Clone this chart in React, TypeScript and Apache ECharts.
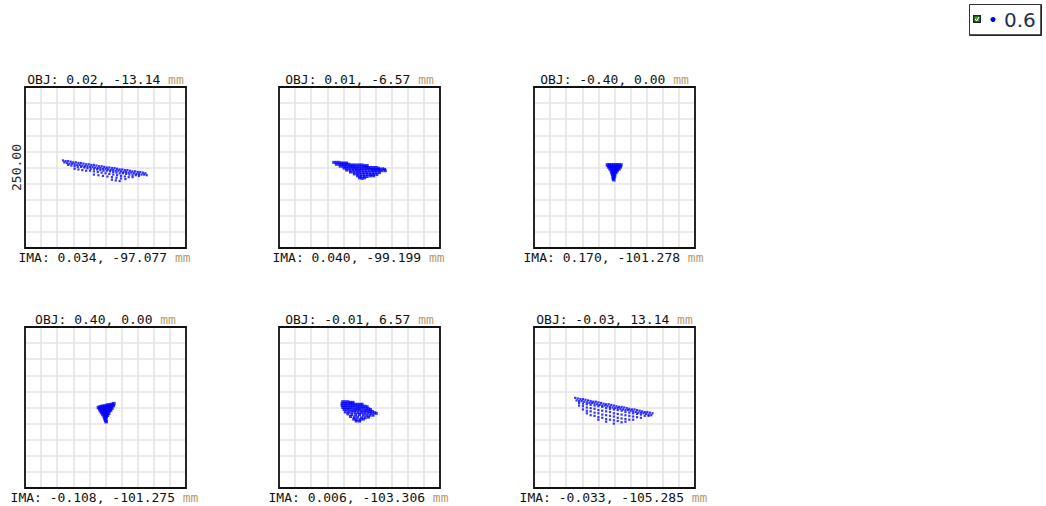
import React, { useEffect, useRef } from "react";
import * as echarts from "echarts";

// ---------- data (µm, relative to the chief-ray centroid; box = 250 µm) ----------
const objLabels = [
  "OBJ: 0.02, -13.14",
  "OBJ: 0.01, -6.57",
  "OBJ: -0.40, 0.00",
  "OBJ: 0.40, 0.00",
  "OBJ: -0.01, 6.57",
  "OBJ: -0.03, 13.14",
];
const imaLabels = [
  "IMA: 0.034, -97.077",
  "IMA: 0.040, -99.199",
  "IMA: 0.170, -101.278",
  "IMA: -0.108, -101.275",
  "IMA: 0.006, -103.306",
  "IMA: -0.033, -105.285",
];
const unitLabel = "mm";
const scaleLabel = "250.00";
const legendLabel = "0.6";
const axisMin = -125;
const axisMax = 125;
const axisStep = 25;

const spot1: number[][] = [
  [-66, 11], [-62, 10], [-58, 10], [-54, 9], [-50, 8], [-46, 8], [-42, 7], [-38, 7], [-34, 6], [-30, 5], [-26, 5],
  [-22, 4], [-18, 4], [-14, 3], [-10, 2], [-6, 2], [-2, 1], [2, 0], [6, 0], [10, -1], [14, -1], [18, -2], [22, -3],
  [26, -3], [30, -4], [34, -4], [38, -5], [42, -6], [46, -6], [50, -7], [54, -7], [58, -8], [62, -9],
  [-64, 8], [-60, 7], [-56, 6], [-52, 6], [-48, 5], [-44, 4], [-40, 4], [-36, 3], [-32, 2], [-28, 2], [-24, 1],
  [-20, 1], [-16, 0], [-12, -1], [-8, -1], [-4, -2], [0, -2], [4, -3], [8, -4], [12, -4], [16, -5], [20, -5],
  [24, -6], [28, -7], [32, -7], [36, -8], [40, -8], [44, -9], [48, -10], [52, -10], [56, -11], [60, -11], [64, -12],
  [-58, 4], [-53, 3], [-48, 2], [-43, 1], [-38, 1], [-33, 0], [-28, -1], [-23, -2], [-18, -2], [-13, -3], [-8, -4],
  [-3, -5], [2, -5], [7, -6], [12, -7], [17, -8], [22, -9], [27, -9], [32, -10], [37, -11], [42, -12], [47, -12], [52, -13],
  [-48, -2], [-42, -3], [-36, -4], [-30, -5], [-24, -5], [-18, -6], [-12, -7], [-6, -8], [0, -9], [6, -10], [12, -11],
  [18, -12], [24, -13], [30, -14], [36, -15], [42, -15],
  [-18, -11], [-11, -12], [-4, -13], [3, -14], [10, -15], [17, -16], [24, -17], [31, -18],
  [10, -19], [16, -20], [22, -21],
];
const spot2: number[][] = [
  [-40, 8], [-36, 8], [-32, 8], [-28, 7], [-24, 7], [-20, 7],
  [-36, 5], [-32, 5], [-28, 5], [-24, 5], [-20, 5], [-16, 5], [-12, 4], [-8, 4], [-4, 4], [0, 4], [4, 4], [8, 3], [12, 3],
  [-30, 2], [-26, 2], [-22, 2], [-18, 2], [-14, 2], [-10, 2], [-6, 1], [-2, 1], [2, 1], [6, 1], [10, 1], [14, 0], [18, 0],
  [22, 0], [26, 0], [30, -1],
  [-24, -1], [-20, -1], [-16, -1], [-12, -1], [-8, -1], [-4, -2], [0, -2], [4, -2], [8, -2], [12, -2], [16, -2], [20, -3],
  [24, -3], [28, -3], [32, -3], [36, -2], [39, -3],
  [-20, -4], [-15, -4], [-10, -4], [-5, -4], [0, -5], [5, -5], [10, -5], [15, -5], [20, -5], [25, -5], [30, -5], [35, -5], [40, -5],
  [-14, -7], [-9, -7], [-4, -7], [1, -8], [6, -8], [11, -8], [16, -8], [21, -8], [26, -8], [31, -8],
  [-8, -10], [-3, -10], [2, -11], [7, -11], [12, -11], [17, -11], [22, -11], [27, -11],
  [-3, -13], [2, -14], [7, -14], [12, -14], [17, -13], [22, -13],
  [0, -16], [4, -17], [8, -16],
];
const spot3: number[][] = [
  [-11, 4], [-8, 4], [-5, 4], [-2, 4], [1, 4], [4, 4], [7, 4], [10, 4],
  [-9, 1], [-6, 1], [-3, 1], [0, 1], [3, 1], [6, 1], [9, 1],
  [-7, -2], [-4, -2], [-1, -2], [2, -2], [5, -2], [7, -2],
  [-5, -5], [-2, -5], [1, -5], [4, -5],
  [-4, -8], [-1, -8], [2, -8],
  [-3, -11], [0, -11],
  [-2, -14], [0, -14],
  [-2, -17],
  [-1, -19],
];
const spot4: number[][] = [
  [-11, 0], [-8, 1], [-5, 2], [-2, 2], [1, 3], [4, 4], [7, 4], [10, 5], [13, 6],
  [-9, -2], [-6, -1], [-3, -1], [0, 0], [3, 1], [6, 1], [9, 2], [12, 3],
  [-8, -5], [-5, -4], [-2, -4], [1, -3], [4, -2], [7, -2], [10, -1],
  [-6, -8], [-3, -7], [0, -7], [3, -6], [6, -5], [8, -4],
  [-4, -11], [-1, -10], [2, -10], [5, -9],
  [-2, -14], [1, -13], [3, -12],
  [-1, -17], [1, -16],
  [0, -20], [1, -22],
];
const spot5: number[][] = [
  [-26, 9], [-22, 9], [-18, 9], [-14, 8], [-10, 8],
  [-27, 6], [-23, 6], [-19, 6], [-15, 6], [-11, 6], [-7, 5], [-3, 5], [1, 5], [4, 5],
  [-27, 3], [-23, 3], [-19, 3], [-15, 3], [-11, 3], [-7, 3], [-3, 2], [1, 2], [5, 2], [9, 2], [12, 1],
  [-26, 0], [-22, 0], [-18, 0], [-14, 0], [-10, 0], [-6, -1], [-2, -1], [2, -1], [6, -1], [10, -2], [14, -2], [17, -3],
  [-24, -3], [-20, -3], [-16, -3], [-12, -4], [-8, -4], [-4, -4], [0, -4], [4, -5], [8, -5], [12, -5], [16, -6], [20, -6],
  [-22, -7], [-17, -7], [-12, -7], [-7, -7], [-2, -8], [3, -8], [8, -8], [13, -8], [18, -9], [23, -8], [26, -9],
  [-18, -10], [-12, -11], [-6, -11], [0, -11], [6, -12], [11, -12], [16, -12], [21, -12],
  [-14, -14], [-8, -15], [-3, -15], [3, -16], [9, -16], [14, -15],
  [-9, -18], [-5, -19], [1, -19], [6, -18],
  [-5, -21], [0, -21],
];
const spot6: number[][] = [
  [-61, 15], [-57, 14], [-53, 13], [-49, 13], [-45, 12], [-41, 11], [-37, 10], [-33, 9], [-29, 9], [-25, 8], [-21, 7],
  [-17, 6], [-13, 5], [-9, 5], [-5, 4], [-1, 3], [3, 2], [7, 1], [11, 1], [15, 0], [19, -1], [23, -2], [27, -3], [31, -3],
  [35, -4], [39, -5], [43, -6], [47, -7], [51, -7], [55, -8], [59, -9],
  [-59, 11], [-55, 10], [-51, 10], [-47, 9], [-43, 8], [-39, 7], [-35, 7], [-31, 6], [-27, 5], [-23, 4], [-19, 3],
  [-15, 3], [-11, 2], [-7, 1], [-3, 0], [1, -1], [5, -1], [9, -2], [13, -3], [17, -4], [21, -4], [25, -5], [29, -6],
  [33, -7], [37, -8], [41, -8], [45, -9], [49, -10], [53, -11], [57, -12],
  [-55, 7], [-55, 3],
  [-49, 6], [-49, 2], [-49, -3],
  [-43, 5], [-43, 0], [-43, -5], [-43, -9],
  [-37, 4], [-37, -1], [-37, -6], [-37, -12],
  [-31, 3], [-31, -2], [-31, -8], [-31, -13],
  [-25, 2], [-25, -4], [-25, -9], [-25, -15], [-25, -19],
  [-19, 1], [-19, -5], [-19, -11], [-19, -16],
  [-13, -1], [-13, -6], [-13, -12], [-13, -18], [-13, -22],
  [-7, -2], [-7, -7], [-7, -13], [-7, -19],
  [-1, -3], [-1, -9], [-1, -14], [-1, -20], [-1, -25],
  [5, -4], [5, -10], [5, -16], [5, -21],
  [11, -5], [11, -11], [11, -17], [11, -23],
  [17, -7], [17, -12], [17, -18], [17, -22],
  [23, -8], [23, -13], [23, -19],
  [29, -9], [29, -14], [29, -19],
  [35, -10], [35, -15],
  [41, -11], [41, -16],
  [47, -13],
  [53, -13],
];
const spots = [spot1, spot2, spot3, spot4, spot5, spot6];

// ---------- layout ----------
const panelLefts = [25, 279, 534, 25, 279, 534];
const panelTops = [87, 87, 87, 327, 327, 327];
const panelSize = 161;
const dotSizes = [2.2, 3, 3.5, 3.5, 3, 2.2];
const MONO = "'DejaVu Sans Mono', monospace";

export default function App() {
  const ref = useRef<HTMLDivElement>(null);

  useEffect(() => {
    if (!ref.current) return;
    const chart = echarts.init(ref.current, null, { renderer: "svg" });

    const grids = panelLefts.map((l, i) => ({
      left: l,
      top: panelTops[i],
      width: panelSize,
      height: panelSize,
      show: false,
    }));
    const axisCommon = {
      type: "value" as const,
      min: axisMin,
      max: axisMax,
      interval: axisStep,
      axisLine: { show: false },
      axisTick: { show: false },
      axisLabel: { show: false },
      splitLine: { show: true, lineStyle: { color: "#e4e4e4", width: 1.6 } },
    };
    const xAxes = panelLefts.map((_, i) => ({ ...axisCommon, gridIndex: i }));
    const yAxes = panelLefts.map((_, i) => ({ ...axisCommon, gridIndex: i }));
    const series = spots.map((d, i) => ({
      type: "scatter" as const,
      xAxisIndex: i,
      yAxisIndex: i,
      data: d,
      symbol: "rect",
      symbolSize: dotSizes[i],
      itemStyle: { color: "#0000ff" },
      silent: true,
      z: 5,
    }));

    const graphics: any[] = [];
    panelLefts.forEach((l, i) => {
      const t = panelTops[i];
      graphics.push({
        type: "rect",
        shape: { x: l, y: t, width: panelSize, height: panelSize },
        style: { fill: "none", stroke: "#111", lineWidth: 1.8 },
        z: 100,
        silent: true,
      });
      const rich = {
        a: { fontFamily: MONO, fontSize: 13, fill: "#111" },
        u: { fontFamily: MONO, fontSize: 13, fill: "#b89c6c" },
      };
      graphics.push({
        type: "text",
        x: l + panelSize / 2,
        y: t - 8,
        style: {
          text: `{a|${objLabels[i]} }{u|${unitLabel}}`,
          rich,
          align: "center",
          verticalAlign: "middle",
        },
        z: 100,
      });
      graphics.push({
        type: "text",
        x: l + panelSize / 2 - 1,
        y: t + panelSize + 9,
        style: {
          text: `{a|${imaLabels[i]} }{u|${unitLabel}}`,
          rich,
          align: "center",
          verticalAlign: "middle",
        },
        z: 100,
      });
    });
    // scale bar label
    graphics.push({
      type: "text",
      x: 16,
      y: panelTops[0] + panelSize / 2,
      rotation: Math.PI / 2,
      style: {
        text: scaleLabel,
        fontFamily: MONO,
        fontSize: 13,
        fill: "#2a2a2a",
        align: "center",
        verticalAlign: "middle",
      },
      z: 100,
    });
    // legend box
    graphics.push({
      type: "rect",
      shape: { x: 969.5, y: 4.5, width: 72, height: 31 },
      style: { fill: "#fff", stroke: "#333", lineWidth: 1 },
      z: 100,
    });
    graphics.push({
      type: "polyline",
      shape: { points: [[970, 35], [1041, 35], [1041, 5]] },
      style: { fill: "none", stroke: "#222", lineWidth: 1.5 },
      z: 101,
    });
    graphics.push({
      type: "rect",
      shape: { x: 973, y: 15, width: 8, height: 8 },
      style: { fill: "#222", stroke: "none" },
      z: 101,
    });
    graphics.push({
      type: "rect",
      shape: { x: 974.5, y: 16.5, width: 5, height: 5 },
      style: { fill: "#2faa2f", stroke: "none" },
      z: 102,
    });
    graphics.push({
      type: "polyline",
      shape: { points: [[975, 19], [976.8, 20.8], [979, 17]] },
      style: { fill: "none", stroke: "#fff", lineWidth: 1 },
      z: 103,
    });
    graphics.push({
      type: "circle",
      shape: { cx: 993, cy: 19.5, r: 2.5 },
      style: { fill: "#0000ff" },
      z: 101,
    });
    graphics.push({
      type: "text",
      x: 1004,
      y: 20,
      style: {
        text: legendLabel,
        fontFamily: "'DejaVu Sans', sans-serif",
        fontSize: 20,
        fill: "#1f2f4f",
        align: "left",
        verticalAlign: "middle",
      },
      z: 101,
    });

    chart.setOption({
      animation: false,
      backgroundColor: "#ffffff",
      grid: grids,
      xAxis: xAxes,
      yAxis: yAxes,
      series,
      graphic: { elements: graphics },
    });

    return () => chart.dispose();
  }, []);

  return (
    <div
      ref={ref}
      style={{ position: "fixed", left: 0, top: 0, width: 1046, height: 506, background: "#fff" }}
    />
  );
}
